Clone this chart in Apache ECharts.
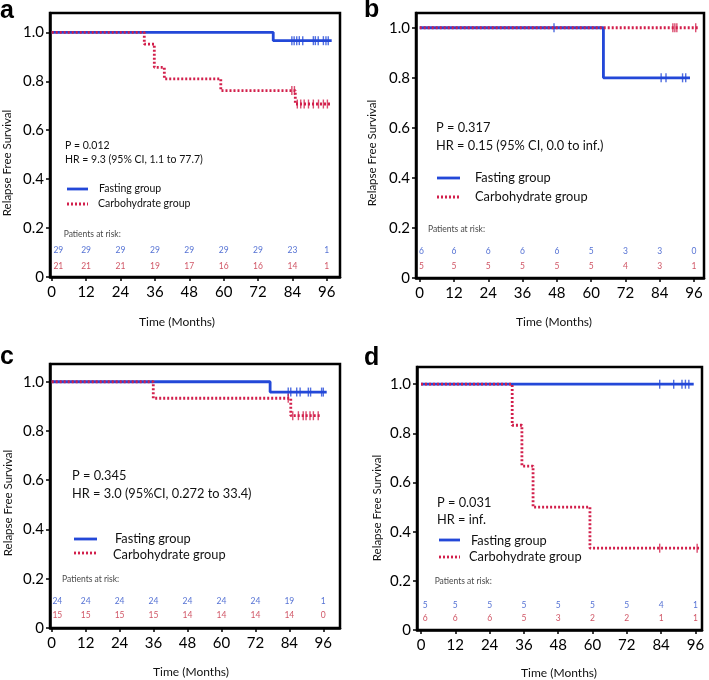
<!DOCTYPE html>
<html>
<head>
    <meta charset="utf-8">
    <title>Relapse Free Survival</title>
    <script src="https://cdn.jsdelivr.net/npm/echarts@6/dist/echarts.min.js"></script>
    <style>
        html, body { margin: 0; padding: 0; background: #fff; }
        #chart { width: 709px; height: 680px; }
    </style>
</head>
<body>
<div id="chart"></div>
<script type="text/javascript">
    // tick labels
    var timeTicks = [0, 12, 24, 36, 48, 60, 72, 84, 96];
    var survTicks = [0, 0.2, 0.4, 0.6, 0.8, 1.0];

    // panel a : step points (time of drop, survival after), last point = end of follow-up
    var aFastTime = [0, 77.3, 97.7];
    var aFastSurv = [1, 0.966, 0.966];
    var aFastCens = [83.8, 84.6, 85.5, 86.4, 87.6, 91.3, 92.0, 93.0, 94.8, 95.7, 96.5];
    var aCarbTime = [0, 32.3, 35.8, 39.3, 59.0, 85.0, 97.4];
    var aCarbSurv = [1, 0.952, 0.857, 0.810, 0.762, 0.707, 0.707];
    var aCarbCens = [83.8, 84.7, 85.7, 86.9, 88.1, 89.6, 91.3, 93.1, 94.8, 96.2];
    var aFastRisk = [29, 29, 29, 29, 29, 29, 29, 23, 1];
    var aCarbRisk = [21, 21, 21, 19, 17, 16, 16, 14, 1];

    // panel b
    var bFastTime = [0, 64.3, 94.6];
    var bFastSurv = [1, 0.8, 0.8];
    var bFastCens = [47.0, 84.5, 86.2, 92.0, 93.1];
    var bCarbTime = [0, 97.9];
    var bCarbSurv = [1, 1];
    var bCarbCens = [88.6, 89.3, 90.0, 96.6];
    var bFastRisk = [6, 6, 6, 6, 6, 5, 3, 3, 0];
    var bCarbRisk = [5, 5, 5, 5, 5, 5, 4, 3, 1];

    // panel c
    var cFastTime = [0, 77.2, 97.2];
    var cFastSurv = [1, 0.958, 0.958];
    var cFastCens = [83.6, 84.5, 86.6, 87.8, 90.7, 91.5, 95.4, 96.0];
    var cCarbTime = [0, 35.9, 84.5, 95.1];
    var cCarbSurv = [1, 0.933, 0.862, 0.862];
    var cCarbCens = [83.6, 85.2, 87.2, 88.9, 89.9, 91.3, 92.5, 94.2];
    var cFastRisk = [24, 24, 24, 24, 24, 24, 24, 19, 1];
    var cCarbRisk = [15, 15, 15, 15, 14, 14, 14, 14, 0];

    // panel d
    var dFastTime = [0, 95.4];
    var dFastSurv = [1, 1];
    var dFastCens = [83.5, 88.4, 91.3, 92.5, 93.7];
    var dCarbTime = [0, 31.9, 35.3, 39.2, 59.1, 97.7];
    var dCarbSurv = [1, 0.833, 0.667, 0.5, 0.333, 0.333];
    var dCarbCens = [83.5, 96.6];
    var dFastRisk = [5, 5, 5, 5, 5, 5, 5, 4, 1];
    var dCarbRisk = [6, 6, 6, 5, 3, 2, 2, 1, 1];

    var BLUE = '#2348d8';
    var RED = '#d21f4b';
    var FONT = 'Lato, "Open Sans", sans-serif';

    function steps(times, surv) {
        return times.map(function (t, i) { return [t, surv[i]]; });
    }
    function survAt(times, surv, t) {
        var s = surv[0];
        for (var i = 0; i < times.length; i++) {
            if (times[i] <= t) s = surv[i];
        }
        return s;
    }
    function censMarks(cens, times, surv) {
        return cens.map(function (t) { return [t, survAt(times, surv, t)]; });
    }
    function riskRow(counts, y, firstShift) {
        return timeTicks.map(function (t, i) {
            return [i === 0 ? firstShift : t, y, counts[i]];
        });
    }

    // grid boxes
    var grids = [
        {left: 50, top: 13, width: 290, height: 264},
        {left: 416, top: 13, width: 288, height: 265},
        {left: 50, top: 364, width: 290, height: 264},
        {left: 417, top: 367, width: 285, height: 263}
    ];
    var xExt = [[-0.6, 100.6], [-1.3, 99.5], [-0.6, 101.9], [-1.4, 98.3]];
    var yMax = [1.079, 1.059, 1.072, 1.070];

    var panels = [
        {ft: aFastTime, fs: aFastSurv, fc: aFastCens, ct: aCarbTime, cs: aCarbSurv, cc: aCarbCens,
            fr: aFastRisk, cr: aCarbRisk, rowY: [0.11, 0.045, 0.175], head: 4.0, shift: 2.3},
        {ft: bFastTime, fs: bFastSurv, fc: bFastCens, ct: bCarbTime, cs: bCarbSurv, cc: bCarbCens,
            fr: bFastRisk, cr: bCarbRisk, rowY: [0.105, 0.045, 0.195], head: 2.7, shift: 0.6},
        {ft: cFastTime, fs: cFastSurv, fc: cFastCens, ct: cCarbTime, cs: cCarbSurv, cc: cCarbCens,
            fr: cFastRisk, cr: cCarbRisk, rowY: [0.108, 0.05, 0.199], head: 3.5, shift: 2.0},
        {ft: dFastTime, fs: dFastSurv, fc: dFastCens, ct: dCarbTime, cs: dCarbSurv, cc: dCarbCens,
            fr: dFastRisk, cr: dCarbRisk, rowY: [0.099, 0.048, 0.2], head: 4.6, shift: 1.5}
    ];

    var xAxes = [], yAxes = [], series = [];
    panels.forEach(function (p, k) {
        grids[k].show = true;
        grids[k].borderColor = '#000';
        grids[k].borderWidth = 2.5;
        xAxes.push({
            type: 'value', gridIndex: k, min: xExt[k][0], max: xExt[k][1],
            splitLine: {show: false},
            axisLine: {show: true, onZero: false, lineStyle: {color: '#000', width: 2.5}},
            axisTick: {show: true, length: 4, lineStyle: {color: '#000', width: 1.5}, customValues: timeTicks},
            axisLabel: {customValues: timeTicks, color: '#000', fontSize: 15, fontFamily: FONT, margin: 8}
        });
        yAxes.push({
            type: 'value', gridIndex: k, min: 0, max: yMax[k],
            splitLine: {show: false},
            axisLine: {show: true, onZero: false, lineStyle: {color: '#000', width: 2.5}},
            axisTick: {show: true, length: 4, lineStyle: {color: '#000', width: 1.5}, customValues: survTicks},
            axisLabel: {
                customValues: survTicks, color: '#000', fontSize: 15, fontFamily: FONT, margin: 6,
                formatter: function (v) { return v === 0 ? '0' : v.toFixed(1); }
            }
        });
        series.push({
            type: 'line', xAxisIndex: k, yAxisIndex: k, step: 'end', showSymbol: false, silent: true,
            data: steps(p.ft, p.fs), lineStyle: {color: BLUE, width: 2.8}, z: 3
        });
        series.push({
            type: 'scatter', xAxisIndex: k, yAxisIndex: k, silent: true, symbol: 'rect', symbolSize: [1.4, 9],
            data: censMarks(p.fc, p.ft, p.fs), itemStyle: {color: BLUE}, z: 3
        });
        series.push({
            type: 'line', xAxisIndex: k, yAxisIndex: k, step: 'end', showSymbol: false, silent: true,
            data: steps(p.ct, p.cs), lineStyle: {color: RED, width: 2.8, type: [2, 2]}, z: 4
        });
        series.push({
            type: 'scatter', xAxisIndex: k, yAxisIndex: k, silent: true, symbol: 'rect', symbolSize: [1.4, 9],
            data: censMarks(p.cc, p.ct, p.cs), itemStyle: {color: RED}, z: 4
        });
        // patients at risk rows
        [[p.fr, p.rowY[0], '#2b4fc9'], [p.cr, p.rowY[1], '#c42a3e']].forEach(function (row) {
            series.push({
                type: 'scatter', xAxisIndex: k, yAxisIndex: k, silent: true, symbolSize: 1,
                itemStyle: {color: 'rgba(0,0,0,0)'},
                data: riskRow(row[0], row[1], p.shift),
                label: {
                    show: true, position: 'inside', color: row[2], fontSize: 8.5, fontFamily: FONT,
                    formatter: function (d) { return String(d.value[2]); }
                }
            });
        });
        series.push({
            type: 'scatter', xAxisIndex: k, yAxisIndex: k, silent: true, symbolSize: 1,
            itemStyle: {color: 'rgba(0,0,0,0)'},
            data: [[p.head, p.rowY[2], 'Patients at risk:']],
            label: {
                show: true, position: 'right', distance: 0, color: '#111', fontSize: 8.5, fontFamily: FONT,
                formatter: function (d) { return d.value[2]; }
            }
        });
    });

    // texts and legends
    function txt(x, y, s, size) {
        return {
            type: 'text', x: x, y: y, silent: true,
            style: {text: s, fill: '#111', font: size + 'px ' + FONT, textAlign: 'left', textVerticalAlign: 'middle'}
        };
    }
    function legendLines(x1, x2, yBlue, yRed) {
        return [
            {type: 'line', silent: true, shape: {x1: x1, y1: yBlue, x2: x2, y2: yBlue}, style: {stroke: BLUE, lineWidth: 2.8}},
            {type: 'line', silent: true, shape: {x1: x1, y1: yRed, x2: x2, y2: yRed}, style: {stroke: RED, lineWidth: 2.8, lineDash: [2, 2]}}
        ];
    }
    var yName = function (x, y) {
        var t = txt(x, y, 'Relapse Free Survival', 11.5);
        t.rotation = Math.PI / 2;
        t.style.textAlign = 'center';
        return t;
    };
    var xName = function (x, y) {
        var t = txt(x, y, 'Time (Months)', 12);
        t.style.textAlign = 'center';
        return t;
    };
    var panelLabel = function (x, y, s) {
        return {type: 'text', x: x, y: y, silent: true,
            style: {text: s, fill: '#000', font: 'bold 25px "Liberation Sans", Arial, sans-serif', textAlign: 'left', textVerticalAlign: 'bottom'}};
    };

    var graphics = [
        panelLabel(0, 24, 'a'), panelLabel(364, 23, 'b'), panelLabel(0, 370, 'c'), panelLabel(364, 371, 'd'),
        yName(7, 163), yName(372, 153), yName(8, 503), yName(377, 508),
        xName(177, 322), xName(554, 322), xName(191, 672), xName(559, 673),

        txt(65, 146, 'P = 0.012', 10.5), txt(65, 160, 'HR = 9.3 (95% CI, 1.1 to 77.7)', 10.5),
        txt(99, 189, 'Fasting group', 10.5), txt(98, 204, 'Carbohydrate group', 10.5),

        txt(436, 128, 'P = 0.317', 12.8), txt(436, 146, 'HR = 0.15 (95% CI, 0.0 to inf.)', 12.8),
        txt(475, 178, 'Fasting group', 12.8), txt(475, 197, 'Carbohydrate group', 12.8),

        txt(72, 476, 'P = 0.345', 12.8), txt(72, 494, 'HR = 3.0 (95%CI, 0.272 to 33.4)', 12.8),
        txt(115, 539, 'Fasting group', 12.8), txt(113, 555, 'Carbohydrate group', 12.8),

        txt(437, 503, 'P = 0.031', 12.8), txt(437, 520, 'HR = inf.', 12.8),
        txt(471, 541, 'Fasting group', 12.8), txt(469, 557, 'Carbohydrate group', 12.8)
    ].concat(
        legendLines(67, 88, 189, 204),
        legendLines(437, 460, 178, 197),
        legendLines(74, 97, 539, 553),
        legendLines(439, 460, 540, 557)
    );

    var chart = echarts.init(document.getElementById('chart'), null, {renderer: 'canvas'});
    chart.setOption({
        animation: false,
        backgroundColor: '#fff',
        grid: grids,
        xAxis: xAxes,
        yAxis: yAxes,
        series: series,
        graphic: graphics
    });
</script>
</body>
</html>
